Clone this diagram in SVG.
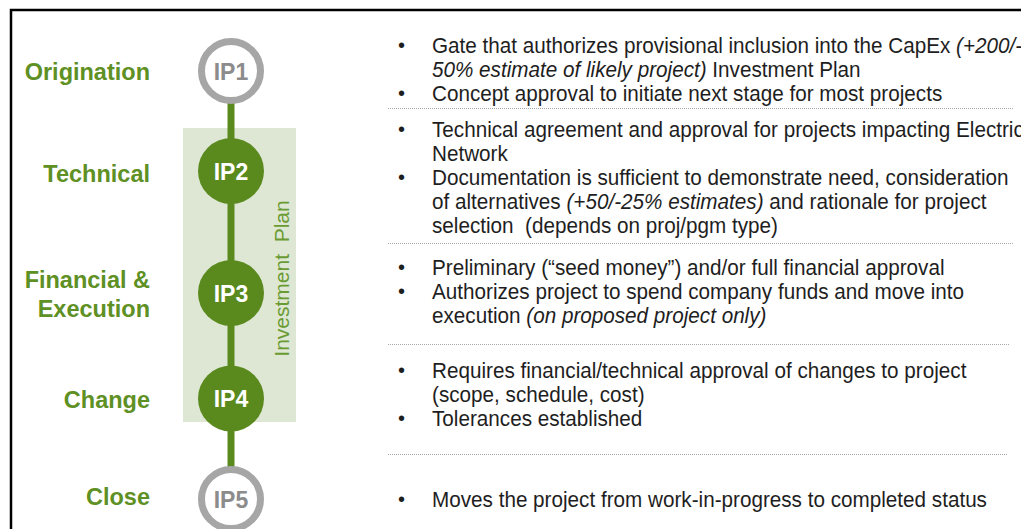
<svg xmlns="http://www.w3.org/2000/svg" width="1021" height="529" viewBox="0 0 1021 529">
<style>
.lbl{font-family:"Liberation Sans",Arial,sans-serif;font-weight:bold;font-size:23.5px;fill:#5E9024;text-anchor:end}
.ipw{font-family:"Liberation Sans",Arial,sans-serif;font-weight:bold;font-size:23px;fill:#ffffff;text-anchor:middle}
.ipg{font-family:"Liberation Sans",Arial,sans-serif;font-weight:bold;font-size:23px;fill:#8C8C8C;text-anchor:middle}
.gfill{fill:#5A8A1E}
.ring{fill:#ffffff;stroke:#A6A6A6;stroke-width:7}
.conn{stroke:#5A8A1E;stroke-width:7;fill:none}
.body{font-family:"Liberation Sans",Arial,sans-serif;font-size:22px;fill:#1E1E1E}
.bul{font-family:"Liberation Sans",Arial,sans-serif;font-size:20px;fill:#1E1E1E}
.it{font-style:italic}
.sep{stroke:#A8A8A8;stroke-width:1;stroke-dasharray:1 1}
</style>
<rect x="0" y="0" width="1021" height="529" fill="#ffffff"/>
<rect x="11" y="10" width="1030" height="540" fill="none" stroke="#000" stroke-width="2.5"/>
<g id="investment-plan">
<rect x="183" y="128" width="113" height="294" fill="#DEE7D4"/>
<text transform="translate(289 278.5) rotate(-90)" text-anchor="middle" font-family="Liberation Sans, Arial, sans-serif" font-size="21" fill="#6A9B32" xml:space="preserve">Investment  Plan</text>
</g>
<g id="connectors">
<line class="conn" x1="231" y1="100" x2="231" y2="140"/>
<line class="conn" x1="231" y1="202" x2="231" y2="262"/>
<line class="conn" x1="231" y1="324" x2="231" y2="368"/>
<line class="conn" x1="231" y1="429" x2="231" y2="470"/>
</g>
<g id="ip1"><circle class="ring" cx="231" cy="71" r="29.5"/><text class="ipg" x="231" y="79.5">IP1</text></g>
<g id="ip2"><circle class="gfill" cx="231" cy="171" r="33"/><text class="ipw" x="231" y="179.5">IP2</text></g>
<g id="ip3"><circle class="gfill" cx="231" cy="293" r="33"/><text class="ipw" x="231" y="301.5">IP3</text></g>
<g id="ip4"><circle class="gfill" cx="231" cy="398.5" r="33"/><text class="ipw" x="231" y="407">IP4</text></g>
<g id="ip5"><circle class="ring" cx="231" cy="499" r="29.5"/><text class="ipg" x="231" y="507.5">IP5</text></g>
<g id="labels">
<text class="lbl" x="150" y="80">Origination</text>
<text class="lbl" x="150" y="182">Technical</text>
<text class="lbl" x="150" y="288">Financial &amp;</text>
<text class="lbl" x="150" y="317">Execution</text>
<text class="lbl" x="150" y="408">Change</text>
<text class="lbl" x="150" y="505">Close</text>
</g>
<g id="separators">
<line class="sep" x1="388" y1="108.5" x2="1013" y2="108.5"/>
<line class="sep" x1="388" y1="243.5" x2="1013" y2="243.5"/>
<line class="sep" x1="388" y1="344.5" x2="1010" y2="344.5"/>
<line class="sep" x1="388" y1="454.5" x2="1008" y2="454.5"/>
</g>
<g id="bullets">
<text class="bul" x="398" y="52">•</text>
<text class="bul" x="398" y="100">•</text>
<text class="bul" x="398" y="136">•</text>
<text class="bul" x="398" y="184">•</text>
<text class="bul" x="398" y="274">•</text>
<text class="bul" x="398" y="298">•</text>
<text class="bul" x="398" y="377">•</text>
<text class="bul" x="398" y="425">•</text>
<text class="bul" x="398" y="506">•</text>
</g>
<g id="descriptions" transform="translate(432 0) scale(0.94 1)">
<text class="body" x="0" y="53" xml:space="preserve">Gate that authorizes provisional inclusion into the CapEx <tspan class="it">(+200/-</tspan></text>
<text class="body" x="0" y="77" xml:space="preserve"><tspan class="it">50% estimate of likely project)</tspan> Investment Plan</text>
<text class="body" x="0" y="101">Concept approval to initiate next stage for most projects</text>
<text class="body" x="0" y="137">Technical agreement and approval for projects impacting Electric</text>
<text class="body" x="0" y="161">Network</text>
<text class="body" x="0" y="185">Documentation is sufficient to demonstrate need, consideration</text>
<text class="body" x="0" y="209" xml:space="preserve">of alternatives <tspan class="it">(+50/-25% estimates)</tspan> and rationale for project</text>
<text class="body" x="0" y="233" xml:space="preserve">selection  (depends on proj/pgm type)</text>
<text class="body" x="0" y="275">Preliminary (“seed money”) and/or full financial approval</text>
<text class="body" x="0" y="299">Authorizes project to spend company funds and move into</text>
<text class="body" x="0" y="323" xml:space="preserve">execution <tspan class="it">(on proposed project only)</tspan></text>
<text class="body" x="0" y="378">Requires financial/technical approval of changes to project</text>
<text class="body" x="0" y="402">(scope, schedule, cost)</text>
<text class="body" x="0" y="426">Tolerances established</text>
<text class="body" x="0" y="507">Moves the project from work-in-progress to completed status</text>
</g>
</svg>
